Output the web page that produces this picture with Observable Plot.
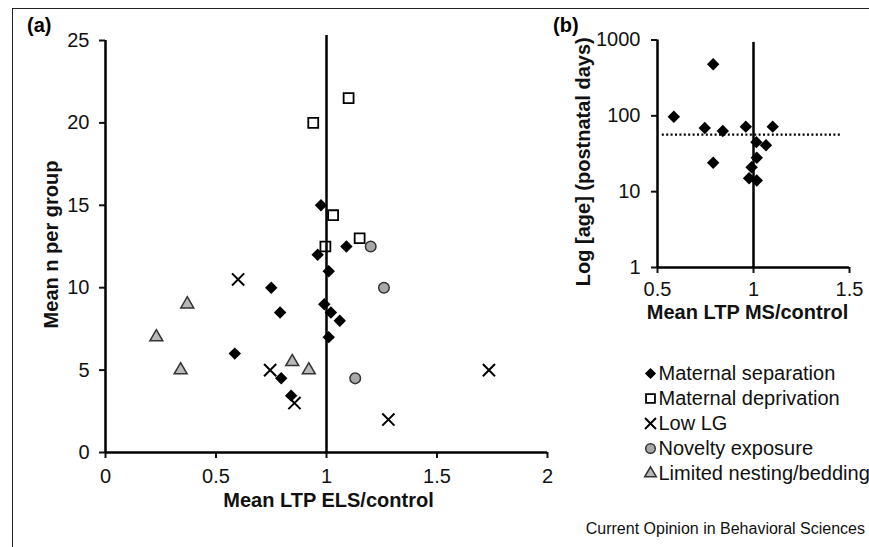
<!DOCTYPE html>
<html>
<head>
<meta charset="utf-8">
<script src="https://cdn.jsdelivr.net/npm/d3@7"></script>
<script src="https://cdn.jsdelivr.net/npm/@observablehq/plot@0.6"></script>
<style>
  html, body { margin: 0; padding: 0; background: white; }
  #root { position: relative; width: 869px; height: 547px; overflow: hidden; font-family: "Liberation Sans", Arial, Helvetica, sans-serif; }
  #root > * { position: absolute; }
  .frame { left: 12px; top: 8px; width: 870px; height: 560px; border-top: 1.5px solid #222; border-left: 1.5px solid #222; }
  .panel { font-weight: bold; font-size: 20px; line-height: 20px; }
  .caption { right: 4px; top: 521px; font-size: 16px; line-height: 16px; color: #111; }
</style>
</head>
<body>
<div id="root"></div>
<script>
// ---- data: panel (a) ----
const series = ["Maternal separation", "Maternal deprivation", "Low LG", "Novelty exposure", "Limited nesting/bedding"];

const sepLTP = [0.585, 0.75, 0.79, 0.795, 0.84, 0.96, 0.975, 0.99, 1.01, 1.01, 1.02, 1.06, 1.09];
const sepN   = [6, 10, 8.5, 4.5, 3.45, 12, 15, 9, 11, 7, 8.5, 8, 12.5];

const depLTP = [0.94, 1.10, 1.03, 1.15, 0.995];
const depN   = [20, 21.5, 14.4, 13, 12.5];

const lowLTP = [0.6, 0.745, 0.855, 1.28, 1.735];
const lowN   = [10.5, 5, 3, 2, 5];

const novLTP = [1.2, 1.26, 1.13];
const novN   = [12.5, 10, 4.5];

const nestLTP = [0.23, 0.37, 0.34, 0.845, 0.92];
const nestN   = [7, 9, 5, 5.5, 5];

// ---- data: panel (b) (maternal separation) ----
const msLTP = [0.79, 0.585, 0.746, 0.84, 0.96, 1.10, 1.015, 1.065, 1.017, 0.99, 0.79, 0.977, 1.017];
const msAge = [480, 97, 69, 63, 72, 72, 45, 41, 28, 21, 24, 15, 14];
const ageRef = 56.6;

// ---- ticks / labels ----
const xTicksA = [0, 0.5, 1, 1.5, 2];
const yTicksA = [0, 5, 10, 15, 20, 25];
const xTicksB = [0.5, 1, 1.5];
const yTicksB = [1, 10, 100, 1000];
const xLabelA = "Mean LTP ELS/control";
const yLabelA = "Mean n per group";
const xLabelB = "Mean LTP MS/control";
const yLabelB = "Log [age] (postnatal days)";
const caption = "Current Opinion in Behavioral Sciences";

// ---- styles ----
const font = "Liberation Sans, Arial, Helvetica, sans-serif";
const styles = {
  "Maternal separation":    {symbol: "diamond2", fill: "black", stroke: "none", r: 5.6},
  "Maternal deprivation":   {symbol: "square", fill: "none", stroke: "black", strokeWidth: 1.8, r: 5.6},
  "Low LG":                 {symbol: "times", fill: "none", stroke: "black", strokeWidth: 2, r: 5.6},
  "Novelty exposure":       {symbol: "circle", fill: "#a8a8a8", stroke: "#333", strokeWidth: 1.5, r: 5.3},
  "Limited nesting/bedding":{symbol: "triangle", fill: "#b8b8b8", stroke: "#333", strokeWidth: 1.5, r: 4.8}
};
const toRows = (xs, ys) => xs.map((x, i) => ({x, y: ys[i]}));
const groupsA = [
  [series[0], toRows(sepLTP, sepN)],
  [series[1], toRows(depLTP, depN)],
  [series[2], toRows(lowLTP, lowN)],
  [series[3], toRows(novLTP, novN)],
  [series[4], toRows(nestLTP, nestN)]
];

const root = document.getElementById("root");
const fmt = d => String(d);
const labelStyle = {fontWeight: "bold", fontSize: 20, fill: "#111", textAnchor: "middle", lineAnchor: "middle"};

// ---- panel (a) ----
const plotA = Plot.plot({
  width: 560, height: 520,
  marginLeft: 105, marginRight: 13, marginTop: 40, marginBottom: 68,
  style: {fontFamily: font, fontSize: "20px", background: "transparent"},
  x: {domain: [0, 2]},
  y: {domain: [0, 25]},
  marks: [
    Plot.axisX({ticks: xTicksA, tickFormat: fmt, tickSize: 6, tickPadding: 10, strokeWidth: 2, fontSize: 20, label: null, color: "#111"}),
    Plot.axisY({ticks: yTicksA, tickFormat: fmt, tickSize: 6, tickPadding: 10, strokeWidth: 2, fontSize: 20, label: null, color: "#111"}),
    Plot.ruleY([0], {x1: 0, x2: 2, strokeWidth: 2.5}),
    Plot.ruleX([0], {y1: 0, y2: 25, strokeWidth: 2.5}),
    Plot.ruleX([1], {y1: 0, y2: 25.3, strokeWidth: 2.5}),
    ...groupsA.map(([name, rows]) => Plot.dot(rows, {x: "x", y: "y", ...styles[name]})),
    Plot.text([xLabelA], {frameAnchor: "bottom", dx: 2, dy: 48, ...labelStyle}),
    Plot.text([yLabelA], {frameAnchor: "left", dx: -54, dy: -2, rotate: -90, ...labelStyle})
  ]
});
plotA.style.left = "0px"; plotA.style.top = "0px";
root.appendChild(plotA);

// ---- panel (b) ----
const plotB = Plot.plot({
  width: 309, height: 330,
  marginLeft: 97, marginRight: 20, marginTop: 39.5, marginBottom: 63,
  style: {fontFamily: font, fontSize: "20px", background: "transparent"},
  x: {domain: [0.5, 1.5]},
  y: {type: "log", domain: [1, 1000]},
  marks: [
    Plot.axisX({ticks: xTicksB, tickFormat: fmt, tickSize: 6, tickPadding: 8, strokeWidth: 2, fontSize: 20, label: null, color: "#111"}),
    Plot.axisY({ticks: yTicksB, tickFormat: fmt, tickSize: 6, tickPadding: 11, strokeWidth: 2, fontSize: 20, label: null, color: "#111"}),
    Plot.ruleY([1], {x1: 0.5, x2: 1.5, strokeWidth: 2.5}),
    Plot.ruleX([0.5], {y1: 1, y2: 1000, strokeWidth: 2.5}),
    Plot.ruleX([1], {y1: 1, y2: 930, strokeWidth: 2.5}),
    Plot.ruleY([ageRef], {x1: 0.525, x2: 1.46, strokeWidth: 2.2, strokeDasharray: "2,2.4"}),
    Plot.dot(toRows(msLTP, msAge), {x: "x", y: "y", ...styles[series[0]]}),
    Plot.text([xLabelB], {frameAnchor: "bottom", dx: -6, dy: 45, ...labelStyle}),
    Plot.text([yLabelB], {frameAnchor: "left", dx: -74, dy: 8, rotate: -90, ...labelStyle})
  ]
});
plotB.style.left = "560px"; plotB.style.top = "0px";
root.appendChild(plotB);

// ---- legend ----
const legend = Plot.plot({
  width: 239, height: 170,
  margin: 0,
  style: {fontFamily: font, fontSize: "20px", background: "transparent"},
  x: {domain: [0, 1], range: [20, 239], axis: null},
  y: {type: "point", domain: series, range: [19, 146], axis: null},
  marks: [
    ...series.map(name => Plot.dot([name], {x: () => 0, y: d => d, ...styles[name], r: styles[name].r * 0.9})),
    Plot.text(series, {x: () => 0, y: d => d, text: d => d, dx: 8, textAnchor: "start", fontSize: 20, fill: "#111"})
  ]
});
legend.style.left = "630px"; legend.style.top = "340px";
root.appendChild(legend);

// ---- frame and text ----
const frame = document.createElement("div"); frame.className = "frame"; root.appendChild(frame);
const pa = document.createElement("div"); pa.className = "panel"; pa.textContent = "(a)"; pa.style.left = "27px"; pa.style.top = "15px"; root.appendChild(pa);
const pb = document.createElement("div"); pb.className = "panel"; pb.textContent = "(b)"; pb.style.left = "553px"; pb.style.top = "15px"; root.appendChild(pb);
const cap = document.createElement("div"); cap.className = "caption"; cap.textContent = caption; root.appendChild(cap);
</script>
</body>
</html>
